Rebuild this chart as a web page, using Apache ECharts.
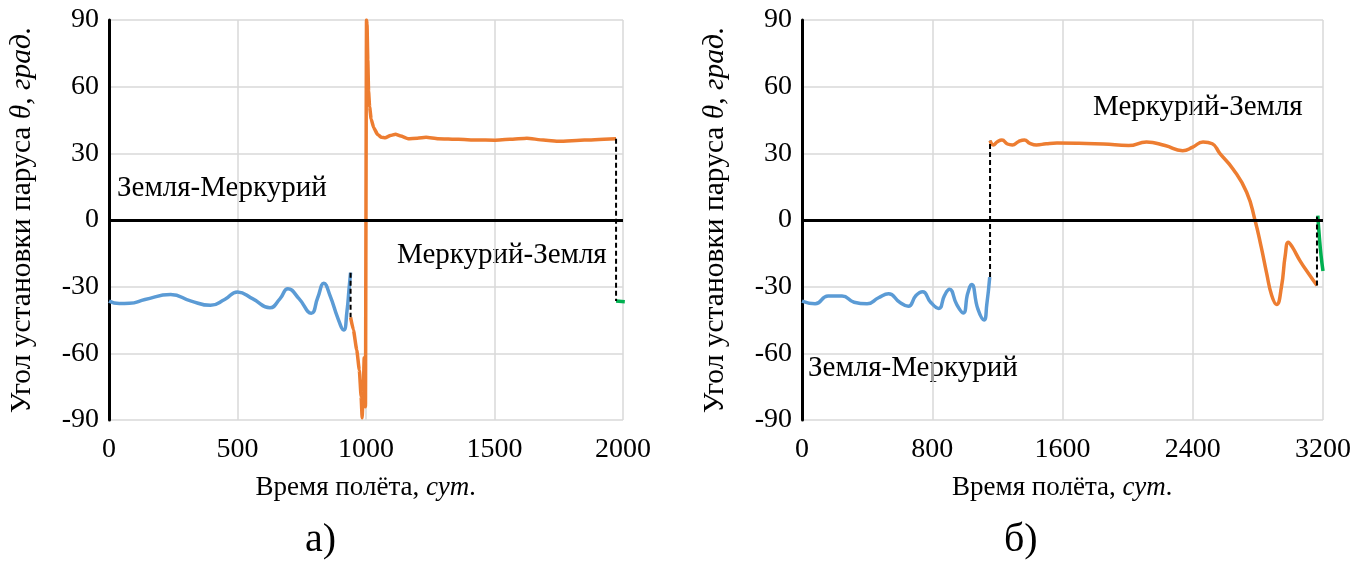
<!DOCTYPE html>
<html>
<head>
<meta charset="utf-8">
<script src="https://cdn.jsdelivr.net/npm/echarts@6/dist/echarts.min.js"></script>
<style>
  html, body { margin: 0; padding: 0; background: #fff; }
  #chart { width: 1371px; height: 561px; }
</style>
</head>
<body>
<div id="chart"></div>
<script>
// (а) время полёта, сут. / угол, град.
const blueA = [[0,-36.5],[40,-37.6],[80,-37.5],[140,-35.8],[240,-33.5],[320,-36.5],[395,-38.4],[450,-35.8],[500,-32.4],
  [560,-35.5],[626,-39.5],[665,-35.5],[696,-30.9],[740,-35.5],[787,-42],[812,-35],[836,-28.5],[860,-34],[890,-44],
  [913,-49.5],[926,-41],[934,-31],[940,-23.7]];
const orangeA = [[940,-43.8],[951,-49.5],[964,-58.5],[974,-67.5],[981,-79.5],[985,-89],[989,-78],[993,-62],[996,-72],
  [998,-84],[1000,-84],[1002,90],[1004,88],[1007,72],[1010,58],[1014,51],[1020,45.5],[1030,41.5],[1045,38.5],[1060,37.2],
  [1075,37],[1095,38],[1115,38.6],[1135,37.8],[1164,36.6],[1200,36.8],[1234,37.2],[1280,36.6],[1360,36.3],[1430,36],
  [1500,35.9],[1560,36.3],[1626,36.8],[1690,36],[1752,35.4],[1850,36],[1973,36.6]];
const greenA = [[1973,-36.5],[2007,-36.8]];
const dashA1 = [[940,-23.7],[940,-43.8]];
const dashA2 = [[1973,36.6],[1973,-36.5]];
const xTicksA = [0, 500, 1000, 1500, 2000];

// (б)
const blueB = [[0,-36.5],[81,-37.7],[160,-34.2],[246,-34.2],[320,-37],[400,-37.7],[470,-35],[532,-33.2],[600,-37],
  [653,-38.8],[700,-34],[741,-32.3],[790,-37],[840,-39.8],[875,-34],[906,-31.2],[950,-38],[990,-41.8],[1018,-33],
  [1042,-29],[1080,-40],[1118,-45],[1135,-38],[1153,-25.7]];
const orangeB = [[1155,35.7],[1175,33.8],[1200,35.2],[1228,36],[1262,34.2],[1292,33.8],[1330,35.3],[1366,36],[1400,34.5],
  [1440,33.8],[1500,34.3],[1566,34.6],[1700,34.5],[1852,34.2],[2006,33.5],[2116,35.1],[2230,33.5],[2338,31.2],
  [2400,32.8],[2463,35.1],[2520,34.3],[2566,30],[2647,23],[2731,12.5],[2782,0],[2820,-12],[2854,-24],[2885,-34],
  [2915,-38],[2945,-30],[2968,-16],[2987,-10],[3010,-12],[3060,-18.5],[3110,-24],[3163,-29.5]];
const greenB = [[3168,2],[3178,-8],[3188,-16],[3200,-23]];
const dashB1 = [[1155,-25.7],[1155,35.7]];
const dashB2 = [[3163,-29.5],[3163,1.5]];
const xTicksB = [0, 800, 1600, 2400, 3200];

const yTicks = [-90, -60, -30, 0, 30, 60, 90];

const FONT = '"Liberation Serif", "Times New Roman", serif';
const BLUE = '#5b9bd5', ORANGE = '#ed7d31', GREEN = '#00b050';

const myChart = echarts.init(document.getElementById('chart'));

function xAxisOf(idx, ticks) {
  return {
    type: 'value', gridIndex: idx,
    min: ticks[0], max: ticks[ticks.length - 1], interval: ticks[1] - ticks[0],
    axisLine: { show: false }, axisTick: { show: false },
    splitLine: { lineStyle: { color: '#d9d9d9', width: 1.5 } },
    axisLabel: { fontFamily: FONT, fontSize: 28, color: '#000', margin: 16, formatter: v => String(v) },
    name: 'Время полёта, {i|сут.}', nameLocation: 'middle', nameGap: 54,
    nameTextStyle: { fontFamily: FONT, fontSize: 27, color: '#000',
      rich: { i: { fontFamily: FONT, fontSize: 27, fontStyle: 'italic', color: '#000' } } },
  };
}

function yAxisOf(idx) {
  return {
    type: 'value', gridIndex: idx,
    min: yTicks[0], max: yTicks[yTicks.length - 1], interval: 30,
    axisLine: { show: true, lineStyle: { color: '#000', width: 3 } },
    axisTick: { show: false },
    splitLine: { lineStyle: { color: '#d9d9d9', width: 1.5 } },
    axisLabel: { fontFamily: FONT, fontSize: 28, color: '#000', margin: 10 },
    name: 'Угол установки паруса {i|θ, град.}', nameLocation: 'middle', nameGap: 72,
    nameTextStyle: { fontFamily: FONT, fontSize: 29.5, color: '#000',
      rich: { i: { fontFamily: FONT, fontSize: 29.5, fontStyle: 'italic', color: '#000' } } },
  };
}

function curve(idx, data, color, extra) {
  return Object.assign({
    type: 'line', xAxisIndex: idx, yAxisIndex: idx, data: data,
    showSymbol: false, symbol: 'none', smooth: 0.5,
    lineStyle: { color: color, width: 3.5 }, z: 3, silent: true,
  }, extra || {});
}

function dash(idx, data) {
  return {
    type: 'line', xAxisIndex: idx, yAxisIndex: idx, data: data,
    symbol: 'none', lineStyle: { color: '#000', width: 2, type: [5, 3] }, z: 5, silent: true,
  };
}

const zeroLine = {
  silent: true, symbol: 'none', label: { show: false },
  lineStyle: { color: '#000', width: 3, type: 'solid' },
  data: [{ yAxis: 0 }],
};

function caption(text, x, y, size) {
  return { type: 'text', x: x, y: y,
    style: { text: text, font: size + 'px ' + FONT, fill: '#000', textVerticalAlign: 'middle' } };
}

myChart.setOption({
  animation: false,
  grid: [
    { left: 109, top: 20, width: 514, height: 400 },
    { left: 802, top: 20, width: 521, height: 400 },
  ],
  xAxis: [xAxisOf(0, xTicksA), xAxisOf(1, xTicksB)],
  yAxis: [yAxisOf(0), yAxisOf(1)],
  series: [
    curve(0, blueA, BLUE, { markLine: zeroLine }),
    curve(0, orangeA, ORANGE, { smooth: 0.15, smoothMonotone: 'x' }),
    curve(0, greenA, GREEN, { clip: false }),
    dash(0, dashA1),
    dash(0, dashA2),
    curve(1, blueB, BLUE, { markLine: zeroLine }),
    curve(1, orangeB, ORANGE),
    curve(1, greenB, GREEN, { clip: false }),
    dash(1, dashB1),
    dash(1, dashB2),
  ],
  graphic: [
    caption('Земля-Меркурий', 117, 188, 29),
    caption('Меркурий-Земля', 397, 255, 29),
    caption('Меркурий-Земля', 1093, 107, 29),
    caption('Земля-Меркурий', 808, 368, 29),
    caption('а)', 305, 540, 40),
    caption('б)', 1004, 540, 40),
  ],
});
</script>
</body>
</html>
